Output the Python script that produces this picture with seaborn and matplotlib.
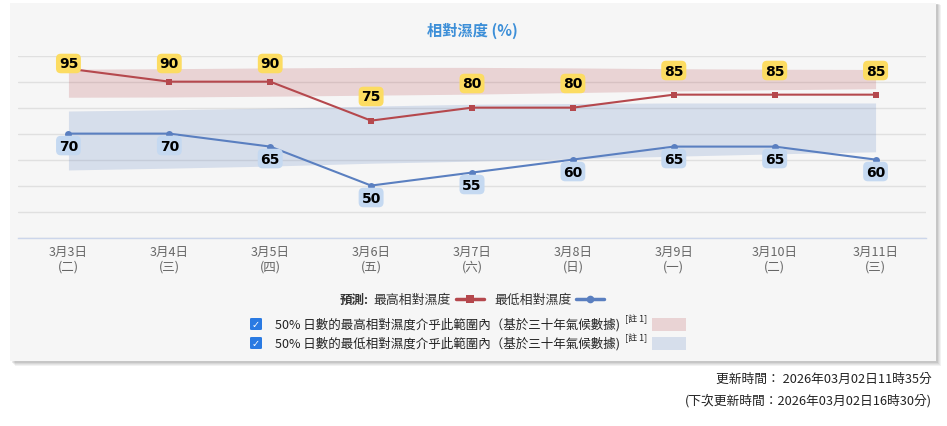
import numpy as np
import pandas as pd
import matplotlib
matplotlib.use("Agg")
import matplotlib.pyplot as plt
import seaborn as sns
from matplotlib.patches import Rectangle, FancyBboxPatch
from matplotlib.lines import Line2D

# data
dates = ["3月3日", "3月4日", "3月5日", "3月6日", "3月7日", "3月8日", "3月9日", "3月10日", "3月11日"]
weekdays = ["(二)", "(三)", "(四)", "(五)", "(六)", "(日)", "(一)", "(二)", "(三)"]
max_rh = [95, 90, 90, 75, 80, 80, 85, 85, 85]
min_rh = [70, 70, 65, 50, 55, 60, 65, 65, 60]
# 50% climatological ranges (estimated from the shaded bands)
max_band_top = [94.8, 95.0, 95.3, 95.5, 95.5, 95.3, 95.0, 94.8, 94.7]
max_band_bot = [84.0, 84.1, 84.4, 84.8, 85.2, 85.8, 86.4, 86.9, 87.3]
min_band_top = [78.7, 79.2, 79.8, 80.6, 81.3, 81.6, 81.8, 81.8, 81.8]
min_band_bot = [56.0, 56.7, 57.5, 58.6, 59.4, 60.3, 61.3, 62.2, 63.0]

RED = "#b5484d"
BLUE = "#5a7fc0"
W, H = 947, 427


def px(x, y):
    return x / W, 1 - y / H


sns.set_theme(style="white")
plt.rcParams["font.family"] = ["Noto Sans CJK TC", "DejaVu Sans"]

fig = plt.figure(figsize=(W / 100, H / 100), dpi=100)
fig.patch.set_facecolor("white")

# panel with soft shadow
for i, a in enumerate([0.05, 0.05, 0.06, 0.08]):
    off = 5 - i
    x0, y1 = px(10 + off, 362 + off)
    x1, y0 = px(936 + off, 4 + off * 0.3)
    fig.add_artist(Rectangle((x0, y1), x1 - x0, y0 - y1, transform=fig.transFigure,
                             facecolor="black", alpha=a, edgecolor="none", zorder=-12))
x0, y1 = px(10, 362)
x1, y0 = px(936, 4)
fig.add_artist(Rectangle((x0, y1), x1 - x0, y0 - y1, transform=fig.transFigure,
                         facecolor="#f6f6f6", edgecolor="none", zorder=-10))

left, top = px(18, 56.7)
right, bottom = px(926, 238.5)
ax = fig.add_axes([left, bottom, right - left, top - bottom])
ax.set_facecolor("none")

df = pd.DataFrame({"day": range(len(dates)), "max": max_rh, "min": min_rh,
                   "mxt": max_band_top, "mxb": max_band_bot,
                   "mnt": min_band_top, "mnb": min_band_bot})

ax.fill_between(df["day"], df["mxb"], df["mxt"], color=RED, alpha=0.2, lw=0, zorder=1)
ax.fill_between(df["day"], df["mnb"], df["mnt"], color=BLUE, alpha=0.2, lw=0, zorder=1)

sns.lineplot(data=df, x="day", y="max", ax=ax, color=RED, lw=1.5, marker="s",
             markersize=5, markeredgewidth=0, zorder=3)
sns.lineplot(data=df, x="day", y="min", ax=ax, color=BLUE, lw=1.5, marker="o",
             markersize=5, markeredgewidth=0, zorder=3)

for d, v in zip(df["day"], df["max"]):
    ax.text(d, min(v + 9.3, 97.0), str(v), ha="center", va="center", fontsize=10,
            fontweight="bold", family="DejaVu Sans", color="black", zorder=5,
            bbox=dict(boxstyle="round,pad=0.2,rounding_size=0.35", fc="#fcdc62", ec="none"))
for d, v in zip(df["day"], df["min"]):
    ax.text(d, v - 4.6, str(v), ha="center", va="center", fontsize=10,
            fontweight="bold", family="DejaVu Sans", color="black", zorder=5,
            bbox=dict(boxstyle="round,pad=0.2,rounding_size=0.35", fc="#c5d9f1", ec="none"))

ax.set_xlim(-0.5, len(dates) - 0.5)
ax.set_ylim(30, 100)
ax.set_yticks(range(30, 101, 10))
ax.yaxis.grid(True, color="#e0e0e0", lw=1)
ax.set_yticklabels([])
ax.tick_params(axis="y", length=0)
ax.set_xticks(df["day"])
ax.set_xticklabels([f"{a}\n{b}" for a, b in zip(dates, weekdays)], fontsize=9,
                   color="#666666", linespacing=1.25)
ax.tick_params(axis="x", length=0, pad=5)
ax.set_xlabel("")
ax.set_ylabel("")
for s in ["top", "left", "right"]:
    ax.spines[s].set_visible(False)
ax.spines["bottom"].set_color("#ccd6eb")
ax.spines["bottom"].set_linewidth(1)

# title
fig.text(*px(472, 31), "相對濕度 (%)", ha="center", va="center", fontsize=11,
         fontweight="bold", color="#3d8fd8")

# legend row
fig.text(*px(340, 300), "預測:", ha="left", va="center", fontsize=9, fontweight="bold", color="#333333")
fig.text(*px(373, 300), "最高相對濕度", ha="left", va="center", fontsize=9.3, color="#333333")
fig.add_artist(Line2D([456 / W, 484 / W], [1 - 300 / H] * 2, transform=fig.transFigure,
                      color=RED, lw=2.5))
fig.add_artist(Line2D([470 / W], [1 - 300 / H], transform=fig.transFigure,
                      color=RED, marker="s", markersize=6, markeredgewidth=0))
fig.text(*px(494, 300), "最低相對濕度", ha="left", va="center", fontsize=9.3, color="#333333")
fig.add_artist(Line2D([576 / W, 604 / W], [1 - 300 / H] * 2, transform=fig.transFigure,
                      color=BLUE, lw=2.5))
fig.add_artist(Line2D([590 / W], [1 - 300 / H], transform=fig.transFigure,
                      color=BLUE, marker="o", markersize=5.5, markeredgewidth=0))

# band legend rows
rows = [("50% 日數的最高相對濕度介乎此範圍內（基於三十年氣候數據)", RED, 325),
        ("50% 日數的最低相對濕度介乎此範圍內（基於三十年氣候數據)", BLUE, 344)]
for label, col, y in rows:
    bx, by = px(250, y + 6)
    fig.add_artist(FancyBboxPatch((bx, by), 12 / W, 12 / H, transform=fig.transFigure,
                                  boxstyle="round,pad=0,rounding_size=0.002",
                                  fc="#2a7ae2", ec="none"))
    fig.text(*px(256, y), "✓", ha="center", va="center", fontsize=7, color="white",
             family="DejaVu Sans", fontweight="bold")
    fig.text(*px(275, y), label, ha="left", va="center", fontsize=9, color="#222222")
    fig.text(*px(625, y - 6), "[註 1]", ha="left", va="center", fontsize=6.5, color="#222222")
    sx, sy = px(652, y + 7)
    fig.add_artist(Rectangle((sx, sy), 34 / W, 13 / H, transform=fig.transFigure,
                             fc=col, alpha=0.2, ec="none"))

# footer
fig.text(*px(932, 379), "更新時間： 2026年03月02日11時35分", ha="right", va="center",
         fontsize=9.2, color="#222222")
fig.text(*px(932, 401), "(下次更新時間：2026年03月02日16時30分)", ha="right", va="center",
         fontsize=9.2, color="#222222")

fig.savefig("out.png", dpi=100)
